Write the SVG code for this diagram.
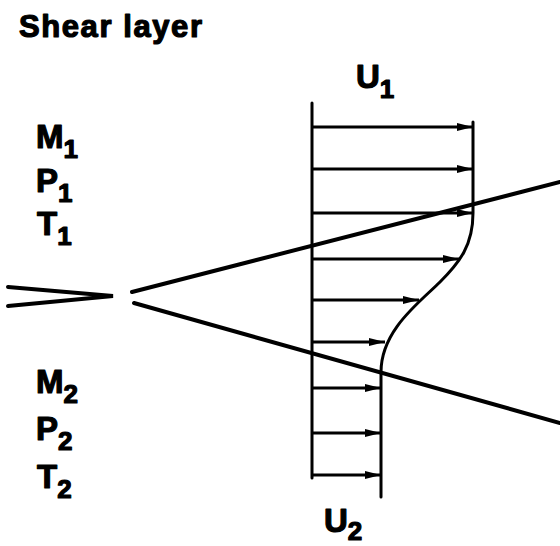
<svg xmlns="http://www.w3.org/2000/svg" width="560" height="546" viewBox="0 0 560 546">
<style>
.t{font-family:"Liberation Sans",Arial,sans-serif;font-weight:bold;fill:#000;stroke:#000;stroke-width:1.2;stroke-linejoin:round}
.m{font-size:33px}
.s{font-size:26px}
.ln{stroke:#000;fill:none;stroke-linecap:round}
.ar{stroke:#000;stroke-width:3.2;fill:none}
</style>
<defs>
<marker id="ah" markerUnits="userSpaceOnUse" markerWidth="18" markerHeight="10" refX="16" refY="5" orient="auto">
<path d="M0,1 L16,5 L0,9 Z" fill="#000"/>
</marker>
</defs>
<rect width="560" height="546" fill="#fff"/>
<g id="title"><text class="t" x="19" y="37" font-size="31" textLength="183">Shear layer</text></g>
<g id="stream1">
<text class="t m" x="36" y="148">M<tspan class="s" dy="10">1</tspan></text>
<text class="t m" x="36" y="192">P<tspan class="s" dy="10">1</tspan></text>
<text class="t m" x="37" y="235">T<tspan class="s" dy="10">1</tspan></text>
</g>
<g id="stream2">
<text class="t m" x="36" y="393">M<tspan class="s" dy="10">2</tspan></text>
<text class="t m" x="36" y="440">P<tspan class="s" dy="10">2</tspan></text>
<text class="t m" x="37" y="488">T<tspan class="s" dy="10">2</tspan></text>
</g>
<g id="u1"><text class="t m" x="356" y="88">U<tspan class="s" dy="10">1</tspan></text></g>
<g id="u2"><text class="t m" x="324" y="532">U<tspan class="s" dy="8">2</tspan></text></g>
<g id="axis">
<line class="ln" x1="312" y1="103" x2="312" y2="478" stroke-width="3"/>
<path class="ln" stroke-width="3" d="M473,122 L473,213 C473,245 460,262 440,282 C420,302 381,330 381,372 L381,497"/>
</g>
<g id="connectors">
<line class="ar" x1="312" y1="127" x2="473" y2="127" marker-end="url(#ah)"/>
<line class="ar" x1="312" y1="169" x2="473" y2="169" marker-end="url(#ah)"/>
<line class="ar" x1="312" y1="213" x2="473" y2="213" marker-end="url(#ah)"/>
<line class="ar" x1="312" y1="259" x2="459" y2="259" marker-end="url(#ah)"/>
<line class="ar" x1="312" y1="300" x2="419" y2="300" marker-end="url(#ah)"/>
<line class="ar" x1="312" y1="342" x2="385" y2="342" marker-end="url(#ah)"/>
<line class="ar" x1="312" y1="388" x2="381" y2="388" marker-end="url(#ah)"/>
<line class="ar" x1="312" y1="433" x2="381" y2="433" marker-end="url(#ah)"/>
<line class="ar" x1="312" y1="475" x2="381" y2="475" marker-end="url(#ah)"/>
</g>
<g id="layer">
<line class="ln" x1="132" y1="292" x2="560" y2="182" stroke-width="4"/>
<line class="ln" x1="134" y1="303" x2="560" y2="423" stroke-width="4"/>
<polyline class="ln" points="8,287 113,296 8,306" stroke-width="4" stroke-linejoin="miter"/>
</g>
</svg>
